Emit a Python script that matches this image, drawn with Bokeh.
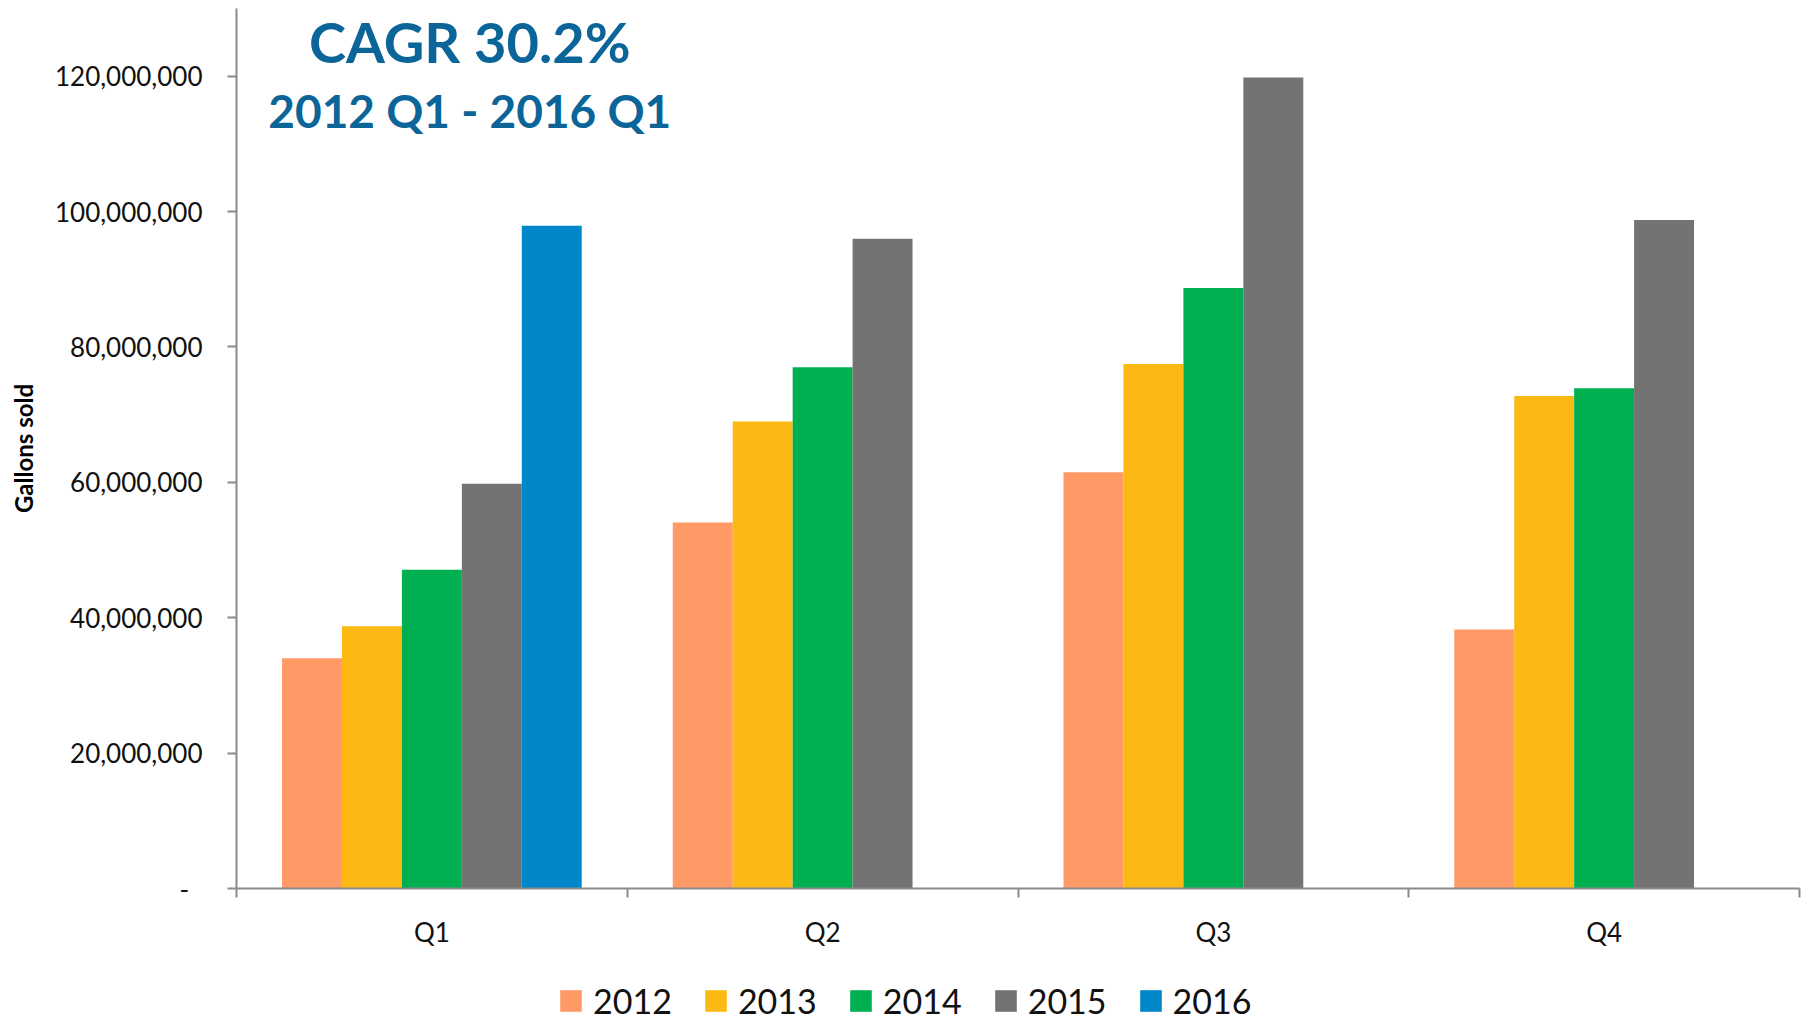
from bokeh.plotting import figure
from bokeh.layouts import column
from bokeh.models import (ColumnDataSource, FixedTicker, Range1d, Legend, LegendItem,
                          NumeralTickFormatter, Label)
from bokeh.transform import dodge
from bokeh.embed import file_html
from bokeh.resources import INLINE

# ---- data ----
quarters = ["Q1", "Q2", "Q3", "Q4"]
years = ["2012", "2013", "2014", "2015", "2016"]
gal_2012 = [34_000_000, 54_050_000, 61_500_000, 38_250_000]
gal_2013 = [38_750_000, 69_000_000, 77_500_000, 72_750_000]
gal_2014 = [47_100_000, 77_000_000, 88_700_000, 73_900_000]
gal_2015 = [59_800_000, 96_000_000, 119_800_000, 98_750_000]
gal_2016 = [97_900_000, None, None, None]
colors = ["#FF9966", "#FDB913", "#00B050", "#737373", "#0087C9"]
y_ticks = [0, 20_000_000, 40_000_000, 60_000_000, 80_000_000, 100_000_000, 120_000_000]
title1 = "CAGR 30.2%"
title2 = "2012 Q1 - 2016 Q1"

series = [gal_2012, gal_2013, gal_2014, gal_2015, gal_2016]

FONT = "Lato"
AXIS_COLOR = "#8A8A8A"
W = 1806
H_MAIN = 960
H_LEG = 61

p = figure(width=W, height=H_MAIN, output_backend="svg", toolbar_location=None,
           x_range=Range1d(0, len(quarters)), y_range=Range1d(0, 130_000_000),
           min_border_left=236, min_border_right=7, min_border_top=8,
           min_border_bottom=H_MAIN - 888)
p.outline_line_color = None
p.xgrid.visible = False
p.ygrid.visible = False
p.background_fill_color = "white"
p.border_fill_color = "white"

bar_w = 0.1534
for j, (yr, vals, col) in enumerate(zip(years, series, colors)):
    xs = [i + 0.5 for i, v in enumerate(vals) if v is not None]
    tops = [v for v in vals if v is not None]
    src = ColumnDataSource(dict(x=xs, top=tops))
    p.vbar(x=dodge("x", (j - 2) * bar_w, range=p.x_range), top="top", bottom=0,
           width=bar_w, source=src, fill_color=col, line_color=None)

# x axis: labels at centers, ticks at category boundaries
xa = p.xaxis[0]
xa.ticker = FixedTicker(ticks=[i + 0.5 for i in range(len(quarters))],
                        minor_ticks=list(range(len(quarters) + 1)))
xa.major_label_overrides = {i + 0.5: q for i, q in enumerate(quarters)}
xa.major_tick_out = 0
xa.major_tick_in = 0
xa.minor_tick_out = 9
xa.minor_tick_in = 0
xa.minor_tick_line_color = AXIS_COLOR
xa.minor_tick_line_width = 2
xa.axis_line_color = AXIS_COLOR
xa.axis_line_width = 2
xa.major_label_text_font = FONT
xa.major_label_text_font_size = "26px"
xa.major_label_text_color = "#111111"
xa.major_label_standoff = 18

ya = p.yaxis[0]
ya.ticker = FixedTicker(ticks=y_ticks, minor_ticks=[])
ya.formatter = NumeralTickFormatter(format="0,0")
ya.major_label_overrides = {0: "-\u00a0\u00a0"}
ya.major_tick_out = 9
ya.major_tick_in = 0
ya.major_tick_line_color = AXIS_COLOR
ya.major_tick_line_width = 2
ya.minor_tick_line_color = None
ya.axis_line_color = AXIS_COLOR
ya.axis_line_width = 2
ya.major_label_text_font = FONT
ya.major_label_text_font_size = "26px"
ya.major_label_text_color = "#111111"
ya.major_label_standoff = 25
ya.axis_label = "Gallons sold"
ya.axis_label_text_font = FONT
ya.axis_label_text_font_style = "bold"
ya.axis_label_text_font_size = "24px"
ya.axis_label_text_color = "#000000"
ya.axis_label_standoff = 14

# title texts
p.add_layout(Label(x=0.597, y=125_150_000, text=title1, text_align="center",
                   text_baseline="alphabetic", text_font=FONT, text_font_style="bold",
                   text_font_size="56px", text_color="#0B6598"))
p.add_layout(Label(x=0.597, y=114_900_000, text=title2, text_align="center",
                   text_baseline="alphabetic", text_font=FONT, text_font_style="bold",
                   text_font_size="46px", text_color="#0B6598"))

# ---- legend strip (separate figure so the legend is not clipped) ----
pl = figure(width=W, height=H_LEG, output_backend="svg", toolbar_location=None,
            x_range=Range1d(0, 1), y_range=Range1d(0, 1),
            x_axis_type=None, y_axis_type=None,
            min_border=0, min_border_left=0, min_border_right=0,
            min_border_top=0, min_border_bottom=0)
pl.grid.visible = False
pl.outline_line_color = None
pl.border_fill_color = "white"
pl.background_fill_color = "white"
leg_renderers = []
for yr, col in zip(years, colors):
    # legend proxy: a zero-height bar (draws nothing, only feeds the legend swatch)
    src = ColumnDataSource(dict(x=[0.5], top=[0.0]))
    r = pl.vbar(x="x", top="top", bottom=0, width=0.1, source=src,
                fill_color=col, line_color=None)
    leg_renderers.append(r)

legend = Legend(items=[LegendItem(label=yr, renderers=[r]) for yr, r in zip(years, leg_renderers)],
                orientation="horizontal", location=(321, 0),
                glyph_width=27, glyph_height=27, label_standoff=9, spacing=30,
                padding=0, margin=0, border_line_color=None, background_fill_alpha=0,
                label_text_font=FONT, label_text_font_size="34px", label_text_color="#111111")
pl.add_layout(legend)

layout = column(p, pl, spacing=0)
open("out.html", "w").write(file_html(layout, INLINE))
